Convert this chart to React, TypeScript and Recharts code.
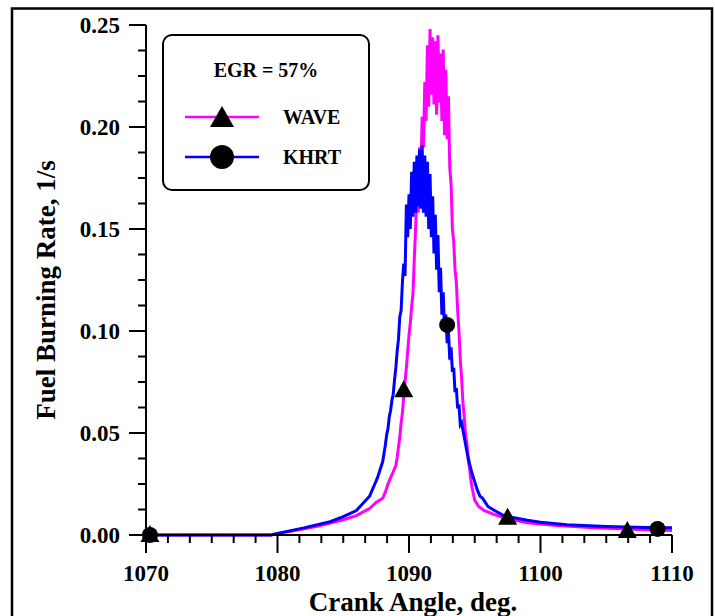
import { ComposedChart, Line, Scatter, XAxis, YAxis } from 'recharts'

// WAVE (magenta) burning rate
const waveX = [
  1070, 1079.5, 1080, 1081, 1082, 1083, 1084, 1085, 1086, 1087, 1087.5, 1088.0, 1088.2, 1088.4, 1088.6, 1088.8,
  1089.0, 1089.1, 1089.2, 1089.3, 1089.4, 1089.5, 1089.6, 1089.7, 1089.8, 1089.9,
  1090.0, 1090.1, 1090.2, 1090.3, 1090.4, 1090.5, 1090.6, 1090.7, 1090.8, 1090.9,
  1091.0, 1091.1, 1091.2, 1091.3, 1091.4, 1091.5, 1091.6, 1091.7, 1091.8, 1091.9,
  1092.0, 1092.1, 1092.2, 1092.3, 1092.4, 1092.5, 1092.6, 1092.7, 1092.8, 1092.9,
  1093.0, 1093.1, 1093.2, 1093.3, 1093.4, 1093.5, 1093.6, 1093.7, 1093.8, 1093.9,
  1094.0, 1094.1, 1094.2, 1094.3, 1094.4, 1094.5, 1094.6, 1094.7, 1094.8, 1094.9,
  1095.0, 1095.3, 1095.7, 1096.5, 1097.5, 1099, 1101, 1104, 1107, 1110,
]
const waveY = [
  0, 0, 0.0006, 0.0018, 0.003, 0.0043, 0.0058, 0.0075, 0.0095, 0.013, 0.016, 0.018, 0.021, 0.025, 0.028, 0.031,
  0.034, 0.038, 0.043, 0.048, 0.055, 0.060, 0.068, 0.075, 0.082, 0.090,
  0.098, 0.104, 0.112, 0.118, 0.135, 0.150, 0.168, 0.158, 0.190, 0.176,
  0.205, 0.190, 0.222, 0.203, 0.240, 0.210, 0.248, 0.216, 0.244, 0.211,
  0.242, 0.206, 0.245, 0.212, 0.236, 0.203, 0.238, 0.196, 0.228, 0.194,
  0.215, 0.180, 0.172, 0.150, 0.144, 0.130, 0.124, 0.110, 0.100, 0.086,
  0.077, 0.065, 0.058, 0.049, 0.045, 0.037, 0.033, 0.027, 0.023, 0.020,
  0.017, 0.014, 0.012, 0.010, 0.008, 0.006, 0.0048, 0.0035, 0.0028, 0.0022,
]

// KHRT (blue) burning rate
const khrtX = [
  1070, 1079.5, 1080, 1082, 1084, 1085, 1086, 1087.0, 1087.2, 1087.4, 1087.6, 1087.8,
  1088.0, 1088.1, 1088.2, 1088.3, 1088.4, 1088.5, 1088.6, 1088.7, 1088.8, 1088.9,
  1089.0, 1089.1, 1089.2, 1089.3, 1089.4, 1089.5, 1089.6, 1089.7, 1089.8, 1089.9,
  1090.0, 1090.1, 1090.2, 1090.3, 1090.4, 1090.5, 1090.6, 1090.7, 1090.8, 1090.9,
  1091.0, 1091.1, 1091.2, 1091.3, 1091.4, 1091.5, 1091.6, 1091.7, 1091.8, 1091.9,
  1092.0, 1092.1, 1092.2, 1092.3, 1092.4, 1092.5, 1092.6, 1092.7, 1092.8, 1092.9,
  1093.0, 1093.1, 1093.2, 1093.3, 1093.4, 1093.5, 1093.6, 1093.7, 1093.8, 1093.9,
  1094.0, 1094.2, 1094.4, 1094.6, 1094.8, 1095.0, 1095.2, 1095.4, 1095.6, 1095.8,
  1096.0, 1096.5, 1097.2, 1098, 1099, 1100, 1102, 1105, 1108, 1110,
]
const khrtY = [
  0, 0, 0.0008, 0.0035, 0.0065, 0.009, 0.012, 0.019, 0.022, 0.025, 0.028, 0.032,
  0.036, 0.040, 0.044, 0.049, 0.052, 0.058, 0.061, 0.066, 0.069, 0.076,
  0.082, 0.090, 0.096, 0.107, 0.110, 0.124, 0.133, 0.127, 0.162, 0.146,
  0.167, 0.150, 0.178, 0.156, 0.183, 0.158, 0.186, 0.161, 0.189, 0.160,
  0.191, 0.158, 0.186, 0.156, 0.183, 0.150, 0.177, 0.146, 0.166, 0.138,
  0.157, 0.130, 0.147, 0.119, 0.131, 0.108, 0.119, 0.101, 0.108, 0.094,
  0.100, 0.086, 0.092, 0.080, 0.082, 0.070, 0.072, 0.062, 0.064, 0.054,
  0.055, 0.048, 0.041, 0.035, 0.030, 0.026, 0.022, 0.019, 0.018, 0.016,
  0.014, 0.012, 0.0095, 0.0085, 0.0072, 0.0062, 0.005, 0.0042, 0.0037, 0.0035,
]

// symbol positions along each curve
const waveMarkX = [1070.3, 1089.6, 1097.5, 1106.6]
const waveMarkY = [0, 0.071, 0.0085, 0.002]
const khrtMarkX = [1070.3, 1092.9, 1108.9]
const khrtMarkY = [0, 0.103, 0.003]

const xMajor = [1070, 1080, 1090, 1100, 1110]
const xLabels = ['1070', '1080', '1090', '1100', '1110']
const yMajor = [0, 0.05, 0.1, 0.15, 0.2, 0.25]
const yLabels = ['0.00', '0.05', '0.10', '0.15', '0.20', '0.25']

const waveData = waveX.map((x, i) => ({ x, y: waveY[i] }))
const khrtData = khrtX.map((x, i) => ({ x, y: khrtY[i] }))
const waveMarks = waveMarkX.map((x, i) => ({ x, y: waveMarkY[i] }))
const khrtMarks = khrtMarkX.map((x, i) => ({ x, y: khrtMarkY[i] }))

// minor ticks: 6 per decade on x, 4 per 0.05 on y
const xTicks: number[] = []
for (let k = 0; k < xMajor.length - 1; k++) {
  for (let j = 0; j < 6; j++) xTicks.push(xMajor[k] + (j * (xMajor[k + 1] - xMajor[k])) / 6)
}
xTicks.push(xMajor[xMajor.length - 1])
const yTicks: number[] = []
for (let k = 0; k < yMajor.length - 1; k++) {
  for (let j = 0; j < 4; j++) yTicks.push(yMajor[k] + (j * (yMajor[k + 1] - yMajor[k])) / 4)
}
yTicks.push(yMajor[yMajor.length - 1])

const FONT = '"Liberation Serif", "Times New Roman", serif'
const MAGENTA = '#ff00ff'
const BLUE = '#0000ff'

const majorIndex = (list: number[], v: number) => list.findIndex((m) => Math.abs(m - v) < 1e-6)

function XTick({ x, y, payload }: any) {
  const idx = majorIndex(xMajor, payload.value)
  const major = idx >= 0
  return (
    <g>
      <line x1={x} x2={x} y1={y} y2={y + (major ? 18 : 8)} stroke="#000" strokeWidth={2} />
      {major && (
        <text x={x} y={y + 46} textAnchor="middle" fontFamily={FONT} fontWeight="bold" fontSize={23} fill="#000">
          {xLabels[idx]}
        </text>
      )}
    </g>
  )
}

function YTick({ x, y, payload }: any) {
  const idx = majorIndex(yMajor, payload.value)
  const major = idx >= 0
  return (
    <g>
      <line x1={x} x2={x - (major ? 17 : 8)} y1={y} y2={y} stroke="#000" strokeWidth={2} />
      {major && (
        <text x={x - 26} y={y} dy="0.35em" textAnchor="end" fontFamily={FONT} fontWeight="bold" fontSize={23} fill="#000">
          {yLabels[idx]}
        </text>
      )}
    </g>
  )
}

const Triangle = ({ cx, cy }: any) => (
  <polygon points={`${cx},${cy - 10} ${cx - 9.5},${cy + 7} ${cx + 9.5},${cy + 7}`} fill="#000" />
)
const Dot = ({ cx, cy }: any) => <circle cx={cx} cy={cy} r={8} fill="#000" />

export default function App() {
  return (
    <div style={{ position: 'absolute', left: 0, top: 0, width: 715, height: 616, overflow: 'hidden', background: '#fff' }}>
      <ComposedChart width={715} height={616} margin={{ top: 25, right: 43, bottom: 0, left: 0 }}>
        <XAxis
          dataKey="x"
          type="number"
          domain={[1070, 1110]}
          ticks={xTicks}
          interval={0}
          height={81}
          tickSize={0}
          tickMargin={0}
          tickLine={false}
          tick={<XTick />}
          axisLine={{ stroke: '#000', strokeWidth: 2 }}
        />
        <YAxis
          dataKey="y"
          type="number"
          domain={[0, 0.25]}
          ticks={yTicks}
          interval={0}
          width={146}
          tickSize={0}
          tickMargin={0}
          tickLine={false}
          tick={<YTick />}
          axisLine={{ stroke: '#000', strokeWidth: 2 }}
        />
        <Line data={waveData} dataKey="y" type="linear" stroke={MAGENTA} strokeWidth={3} dot={false} activeDot={false} isAnimationActive={false} />
        <Line data={khrtData} dataKey="y" type="linear" stroke={BLUE} strokeWidth={3} dot={false} activeDot={false} isAnimationActive={false} />
        <Scatter data={waveMarks} dataKey="y" shape={<Triangle />} isAnimationActive={false} />
        <Scatter data={khrtMarks} dataKey="y" shape={<Dot />} isAnimationActive={false} />
      </ComposedChart>
      <svg width={715} height={616} style={{ position: 'absolute', left: 0, top: 0, pointerEvents: 'none' }}>
        <rect x={12} y={8.5} width={700} height={660} fill="none" stroke="#000" strokeWidth={2.5} />
        <text x={413} y={611} textAnchor="middle" fontFamily={FONT} fontWeight="bold" fontSize={27} fill="#000">
          Crank Angle, deg.
        </text>
        <text x={55} y={290} transform="rotate(-90 55 290)" textAnchor="middle" fontFamily={FONT} fontWeight="bold" fontSize={27} fill="#000">
          Fuel Burning Rate, 1/s
        </text>
        <rect x={163} y={35} width={206} height={155} rx={9} fill="#fff" stroke="#000" strokeWidth={2} />
        <text x={266} y={77} textAnchor="middle" fontFamily={FONT} fontWeight="bold" fontSize={20} fill="#000">
          EGR = 57%
        </text>
        <line x1={185} x2={259} y1={117} y2={117} stroke={MAGENTA} strokeWidth={2.5} />
        <polygon points="222,106 210,127 234,127" fill="#000" />
        <text x={283} y={124} fontFamily={FONT} fontWeight="bold" fontSize={20} fill="#000">WAVE</text>
        <line x1={185} x2={259} y1={157} y2={157} stroke={BLUE} strokeWidth={2.5} />
        <circle cx={222} cy={157} r={12} fill="#000" />
        <text x={283} y={164} fontFamily={FONT} fontWeight="bold" fontSize={20} fill="#000">KHRT</text>
      </svg>
    </div>
  )
}
